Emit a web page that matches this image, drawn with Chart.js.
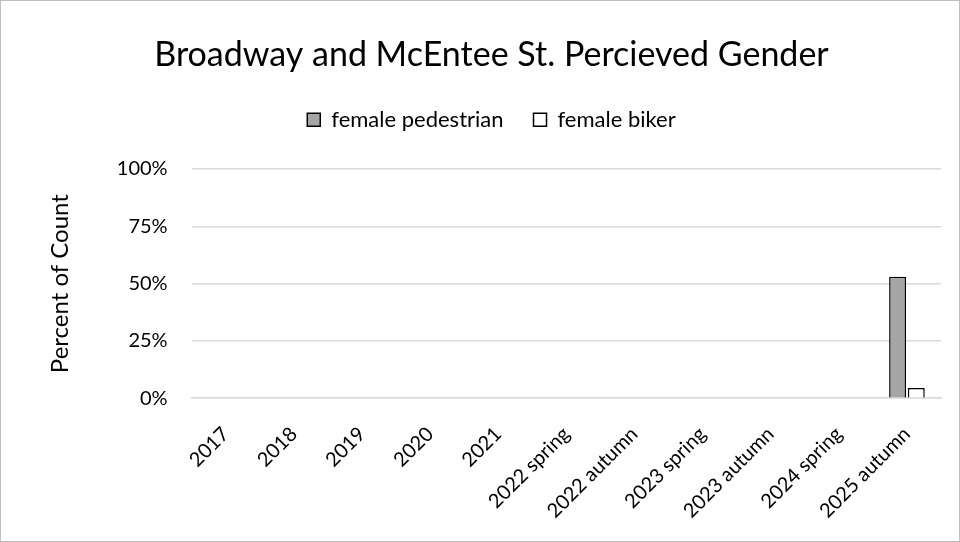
<!DOCTYPE html>
<html><head><meta charset="utf-8">
<script src="https://cdn.jsdelivr.net/npm/chart.js@4"></script>
<style>
html,body{margin:0;padding:0;background:#fff;}
#wrap{position:absolute;left:0;top:0;width:958px;height:540px;border:1px solid #bfbfbf;}
</style></head><body>
<div id="wrap"><canvas id="c"></canvas></div>
<script>
const categories = ["2017","2018","2019","2020","2021","2022 spring","2022 autumn","2023 spring","2023 autumn","2024 spring","2025 autumn"];
const femalePedestrian = [null,null,null,null,null,null,null,null,null,null,0.53];
const femaleBiker = [null,null,null,null,null,null,null,null,null,null,0.045];
const yTicks = [0,0.25,0.5,0.75,1];

const FONT = "Lato, 'Open Sans', sans-serif";
new Chart(document.getElementById('c'), {
  type: 'bar',
  data: {
    labels: categories,
    datasets: [
      {label: 'female pedestrian', data: femalePedestrian, backgroundColor: '#a6a6a6', borderColor: '#000', borderWidth: 1.5, barPercentage: 0.9, categoryPercentage: 0.55},
      {label: 'female biker', data: femaleBiker, backgroundColor: '#ffffff', borderColor: '#000', borderWidth: 1.5, barPercentage: 0.9, categoryPercentage: 0.55}
    ]
  },
  options: {
    responsive: true, maintainAspectRatio: false, animation: false,
    layout: {padding: {left: 41, right: 18, top: 34, bottom: 2}},
    plugins: {
      title: {display: true, text: 'Broadway and McEntee St. Percieved Gender', color: '#000', font: {family: FONT, size: 34, weight: 'normal'}, padding: {top: 0, bottom: 3}},
      legend: {position: 'top', labels: {color: '#000', font: {family: FONT, size: 22}, boxWidth: 13, boxHeight: 13, padding: 30, useBorderRadius: false}},
      subtitle: {display: true, position: 'top', weight: 500, text: ' ', font: {size: 1}, padding: {top: 0, bottom: 27}},
      tooltip: {enabled: false}
    },
    scales: {
      x: {
        grid: {display: false}, border: {color: '#d9d9d9', width: 1.5},
        ticks: {color: '#000', font: {family: FONT, size: 20}, maxRotation: 45, minRotation: 45, autoSkip: false, padding: 16}
      },
      y: {
        min: 0, max: 1,
        afterBuildTicks: (s) => { s.ticks = yTicks.map(v => ({value: v})); },
        grid: {color: '#d9d9d9', lineWidth: 1.5, drawTicks: false}, border: {display: false},
        ticks: {color: '#000', font: {family: FONT, size: 20}, padding: 24, callback: v => Math.round(v*100) + '%'},
        title: {display: true, text: 'Percent of Count', color: '#000', font: {family: FONT, size: 24}, padding: {bottom: 18}}
      }
    }
  }
});
</script></body></html>
